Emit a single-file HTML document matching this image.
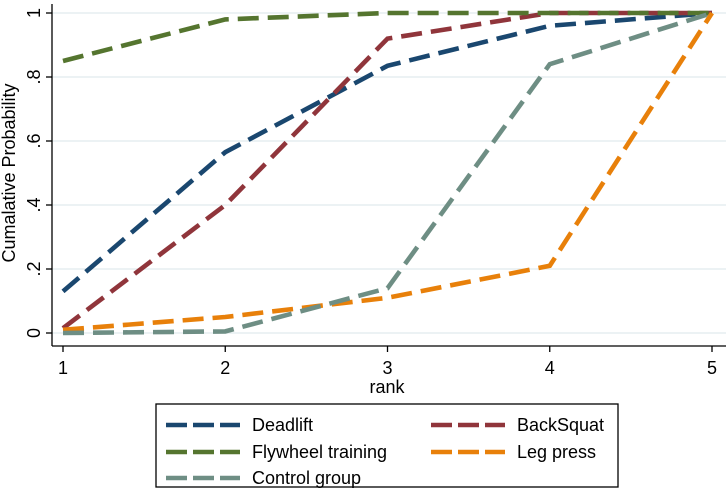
<!DOCTYPE html>
<html><head><meta charset="utf-8"><style>
body{margin:0;background:#fff;font-family:"Liberation Sans",Arial,sans-serif}
svg{display:block}
</style></head><body>
<svg id="chart" width="726" height="495">
<g id="grid"></g>
<g id="axes"></g>
<g id="lines"></g>
<g id="legend"></g>
</svg>
<script>
const categories=[1,2,3,4,5];
const yTicks=[0,0.2,0.4,0.6,0.8,1];
const yTickLabels=["0",".2",".4",".6",".8","1"];
const seriesNames=["Deadlift","BackSquat","Flywheel training","Leg press","Control group"];
const deadlift=[0.13,0.565,0.835,0.96,1];
const backSquat=[0.015,0.40,0.92,1,1];
const flywheel=[0.85,0.98,1,1,1];
const legPress=[0.01,0.05,0.11,0.21,1];
const control=[0,0.005,0.14,0.84,1];
const seriesValues=[deadlift,backSquat,flywheel,legPress,control];
const colors=["#1a476f","#90353b","#55752f","#e8800a","#6e8e84"];
const NS="http://www.w3.org/2000/svg";
const x=v=>63+(v-1)*162.25;
const y=v=>333-v*320;
function mk(t,a,p){const e=document.createElementNS(NS,t);for(const k in a)e.setAttribute(k,a[k]);p.appendChild(e);return e;}
const grid=document.getElementById('grid'),axes=document.getElementById('axes'),lines=document.getElementById('lines'),legend=document.getElementById('legend');
yTicks.forEach((t,i)=>{
 const g=mk('line',{x1:52,x2:726,y1:y(t),y2:y(t),stroke:'#e6eef0','stroke-width':1.5},grid);
 
 
 const tk=mk('line',{x1:46,x2:52,y1:y(t),y2:y(t),stroke:'#000','stroke-width':1.3},axes);
 
 
 const tx=mk('text',{x:0,y:0,transform:`translate(40,${y(t)}) rotate(-90)`,'text-anchor':'middle','font-size':18,fill:'#000'},axes);
 tx.textContent=yTickLabels[i];
 
 
});
const yl=mk('line',{x1:52,x2:52,y1:4,y2:346,stroke:'#000','stroke-width':1.3},axes);


const xl=mk('line',{x1:52,x2:726,y1:346,y2:346,stroke:'#000','stroke-width':1.3},axes);


categories.forEach(c=>{
 const tk=mk('line',{x1:x(c),x2:x(c),y1:346,y2:352,stroke:'#000','stroke-width':1.3},axes);
 
 
 const tx=mk('text',{x:x(c),y:374,'text-anchor':'middle','font-size':18,fill:'#000'},axes);
 tx.textContent=c;
 
 
});
const xt=mk('text',{x:387,y:393,'text-anchor':'middle','font-size':18,fill:'#000'},axes);
xt.textContent='rank';


const yt=mk('text',{x:0,y:0,transform:'translate(15,173) rotate(-90)','text-anchor':'middle','font-size':18,fill:'#000'},axes);
yt.textContent='Cumalative Probability';


seriesValues.forEach((vals,i)=>{
 const pts=vals.map((v,j)=>x(categories[j])+','+y(v)).join(' ');
 const pl=mk('polyline',{points:pts,fill:'none',stroke:colors[i],'stroke-width':4.6,'stroke-dasharray':'21 9'},lines);
 
 
});
const box=mk('rect',{x:156,y:404,width:462,height:83,fill:'#fff',stroke:'#000','stroke-width':1.3},legend);


const pos=[[166,425],[431,425],[166,452],[431,452],[166,478]];
seriesNames.forEach((n,i)=>{
 const [lx,ly]=pos[i];
 const g=mk('g',{},legend);
 
 
 mk('line',{x1:lx,x2:lx+74,y1:ly,y2:ly,stroke:colors[i],'stroke-width':4.6,'stroke-dasharray':'21 6'},g);
 const t=mk('text',{x:lx+86,y:ly+6,'font-size':18,fill:'#000'},g);
 t.textContent=n;
});
</script>
</body></html>
